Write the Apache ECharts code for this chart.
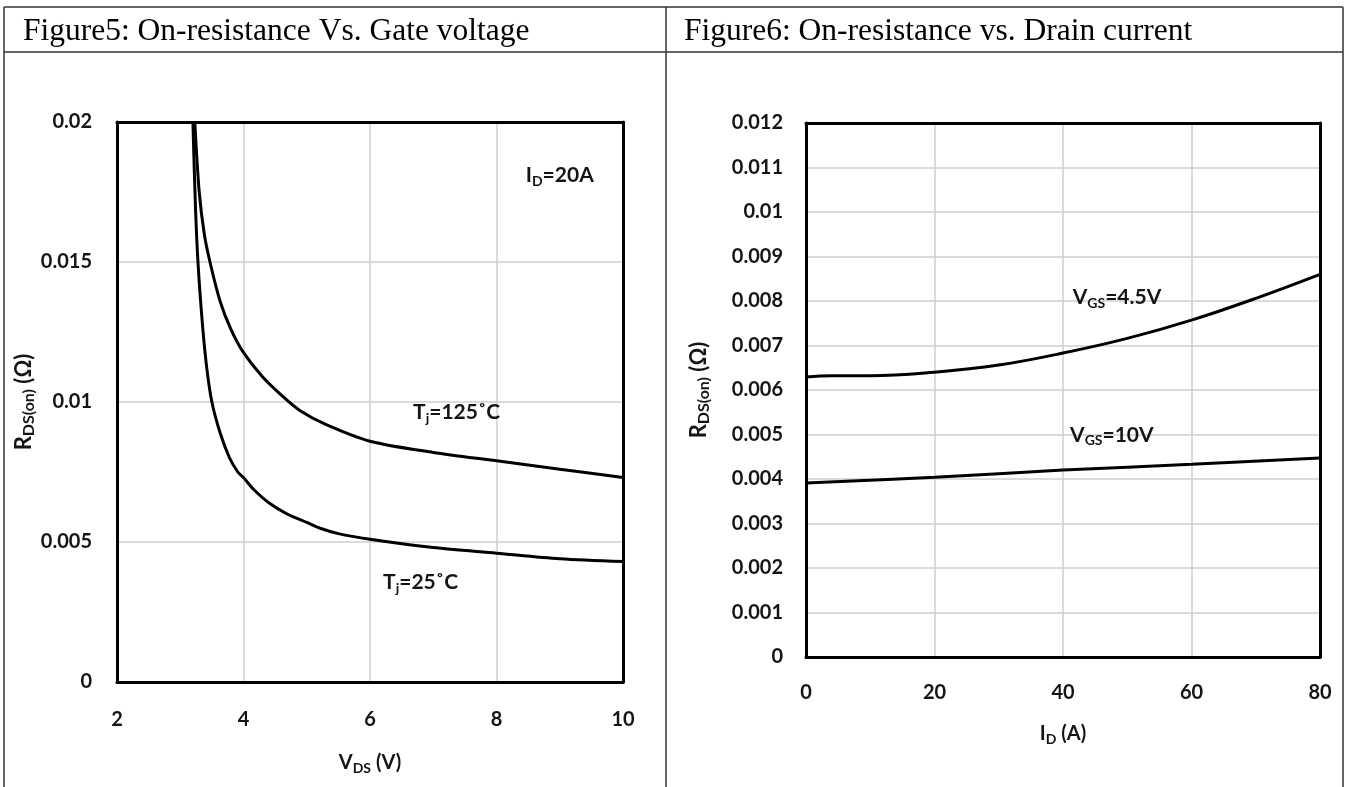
<!DOCTYPE html>
<html>
<head>
<meta charset="utf-8">
<title>On-resistance characteristics</title>
<script src="https://cdn.jsdelivr.net/npm/echarts@6/dist/echarts.min.js"></script>
<style>
  html, body { margin: 0; padding: 0; background: #fff; }
  #chart { width: 1347px; height: 787px; }
</style>
</head>
<body>
<div id="chart"></div>
<script>
// Figure 5: on-resistance vs. gate voltage (ID = 20 A)
const vdsTicks = [2, 4, 6, 8, 10];
const rdsTicksFig5 = [0, 0.005, 0.01, 0.015, 0.02];
const vdsTj25 = [3.20, 3.24, 3.28, 3.35, 3.42, 3.50, 3.63, 3.78, 3.91, 4.00, 4.15, 4.40, 4.69, 5.00, 5.20, 5.50, 6.00, 7.00, 8.00, 9.00, 10.0];
const rdsTj25 = [0.0200, 0.0170, 0.0150, 0.0128, 0.0112, 0.0100, 0.0089, 0.0080, 0.0075, 0.0073, 0.0069, 0.0064, 0.0060, 0.0057, 0.0055, 0.0053, 0.0051, 0.0048, 0.0046, 0.0044, 0.0043];
const vdsTj125 = [3.23, 3.30, 3.38, 3.47, 3.63, 3.80, 3.99, 4.30, 4.62, 4.89, 5.30, 6.00, 7.00, 8.00, 9.00, 10.0];
const rdsTj125 = [0.0200, 0.0175, 0.0160, 0.0150, 0.0136, 0.0126, 0.0118, 0.0109, 0.0102, 0.0097, 0.0092, 0.0086, 0.0082, 0.0079, 0.0076, 0.0073];

// Figure 6: on-resistance vs. drain current
const idTicks = [0, 20, 40, 60, 80];
const rdsTicksFig6 = [0, 0.001, 0.002, 0.003, 0.004, 0.005, 0.006, 0.007, 0.008, 0.009, 0.01, 0.011, 0.012];
const idVgs45 = [0, 4, 10, 20, 30, 40, 50, 60, 70, 80];
const rdsVgs45 = [0.00629, 0.00632, 0.00632, 0.00640, 0.00656, 0.00683, 0.00716, 0.00757, 0.00806, 0.00860];
const idVgs10 = [0, 20, 40, 60, 80];
const rdsVgs10 = [0.00391, 0.00404, 0.00420, 0.00433, 0.00447];

const zip = (xs, ys) => xs.map((x, i) => [x, ys[i]]);

const SANS = 'Lato';
const INK = '#151515';
const rich = {
  n: { fontFamily: SANS, fontWeight: 'bold', fontSize: 20, color: INK, lineHeight: 24 },
  s: { fontFamily: SANS, fontWeight: 'bold', fontSize: 14, color: INK, lineHeight: 15, verticalAlign: 'bottom' },
  yn: { fontFamily: SANS, fontWeight: 'bold', fontSize: 22, color: INK, lineHeight: 26 },
  ys: { fontFamily: SANS, fontWeight: 'bold', fontSize: 16, color: INK, lineHeight: 17, verticalAlign: 'bottom' },
  t: { fontFamily: SANS, fontWeight: 'bold', fontSize: 21, color: INK, lineHeight: 26, opacity: 1 },
  ts: { fontFamily: SANS, fontWeight: 'bold', fontSize: 14, color: INK, lineHeight: 15, verticalAlign: 'bottom', opacity: 1 }
};
const tickFont = { fontFamily: SANS, fontWeight: 'bold', fontSize: 20, color: INK };

function valueAxis(gridIndex, min, max, interval, extra) {
  return Object.assign({
    type: 'value', gridIndex, min, max, interval,
    axisLine: { show: true, onZero: false, lineStyle: { color: '#000', width: 3 } },
    axisTick: { show: false },
    axisLabel: tickFont,
    splitLine: { show: true, lineStyle: { color: '#cfcfcf', width: 1.5 } }
  }, extra);
}

// plain black frame edge on the far side of a grid
function frameAxis(gridIndex, position, min, max) {
  return {
    type: 'value', gridIndex, position, min, max,
    axisLine: { show: true, onZero: false, lineStyle: { color: '#000', width: 3 } },
    axisTick: { show: false }, axisLabel: { show: false }, splitLine: { show: false }
  };
}

function curve(xAxisIndex, yAxisIndex, data, smooth) {
  return {
    type: 'line', xAxisIndex, yAxisIndex, data, smooth,
    showSymbol: false, clip: true, z: 3,
    lineStyle: { color: '#000', width: 3 },
    silent: true
  };
}

// text placed at a data position of a grid
function note(xAxisIndex, yAxisIndex, coord, text) {
  return {
    type: 'scatter', xAxisIndex, yAxisIndex, silent: true, z: 4,
    symbolSize: 1, itemStyle: { color: '#fff', opacity: 1 },
    data: [coord],
    label: {
      show: true, position: 'inside', formatter: text, rich, opacity: 1,
      fontFamily: SANS, fontWeight: 'bold', fontSize: 21, color: INK,
      textBorderWidth: 0
    }
  };
}

const chart = echarts.init(document.getElementById('chart'), null, { renderer: 'canvas' });

const titleFont = { fontFamily: 'Liberation Serif', fontWeight: 'normal', fontSize: 31.5, color: '#000' };

const option = {
  animation: false,
  backgroundColor: '#fff',
  title: [
    { text: 'Figure5: On-resistance Vs. Gate voltage', left: 18, top: 11, textStyle: titleFont },
    { text: 'Figure6: On-resistance vs. Drain current', left: 679, top: 11, textStyle: titleFont }
  ],
  grid: [
    { left: 117, top: 122, width: 506, height: 560 },
    { left: 806, top: 123, width: 514, height: 534 }
  ],
  xAxis: [
    valueAxis(0, vdsTicks[0], vdsTicks[vdsTicks.length - 1], 2, {
      name: '{n|V}{s|DS}{n| (V)}', nameLocation: 'middle', nameGap: 69,
      nameTextStyle: { rich },
      axisLabel: Object.assign({ margin: 28 }, tickFont)
    }),
    valueAxis(1, idTicks[0], idTicks[idTicks.length - 1], 20, {
      name: '{n|I}{s|D}{n| (A)}', nameLocation: 'middle', nameGap: 65,
      nameTextStyle: { rich },
      axisLabel: Object.assign({ margin: 26 }, tickFont)
    }),
    frameAxis(0, 'top', vdsTicks[0], vdsTicks[vdsTicks.length - 1]),
    frameAxis(1, 'top', idTicks[0], idTicks[idTicks.length - 1])
  ],
  yAxis: [
    valueAxis(0, rdsTicksFig5[0], rdsTicksFig5[rdsTicksFig5.length - 1], 0.005, {
      name: '{yn|R}{ys|DS(on)}{yn| (Ω)}', nameLocation: 'middle', nameGap: 62, nameRotate: 90,
      nameTextStyle: { rich },
      axisLabel: Object.assign({ margin: 25 }, tickFont)
    }),
    valueAxis(1, rdsTicksFig6[0], rdsTicksFig6[rdsTicksFig6.length - 1], 0.001, {
      name: '{yn|R}{ys|DS(on)}{yn| (Ω)}', nameLocation: 'middle', nameGap: 94, nameRotate: 90,
      nameTextStyle: { rich },
      axisLabel: Object.assign({ margin: 23 }, tickFont)
    }),
    frameAxis(0, 'right', rdsTicksFig5[0], rdsTicksFig5[rdsTicksFig5.length - 1]),
    frameAxis(1, 'right', rdsTicksFig6[0], rdsTicksFig6[rdsTicksFig6.length - 1])
  ],
  series: [
    curve(0, 0, zip(vdsTj25, rdsTj25), 0.3),
    curve(0, 0, zip(vdsTj125, rdsTj125), 0.3),
    curve(1, 1, zip(idVgs45, rdsVgs45), 0.4),
    curve(1, 1, zip(idVgs10, rdsVgs10), 0.4),
    note(0, 0, [9.0, 0.0181], '{t|I}{ts|D}{t|=20A}'),
    note(0, 0, [7.37, 0.00964], '{t|T}{ts|j}{t|=125˚C}'),
    note(0, 0, [6.8, 0.00357], '{t|T}{ts|j}{t|=25˚C}'),
    note(1, 1, [48.4, 0.00809], '{t|V}{ts|GS}{t|=4.5V}'),
    note(1, 1, [47.6, 0.00499], '{t|V}{ts|GS}{t|=10V}')
  ],
  graphic: [
    // table frame around the two figure cells
    { type: 'line', shape: { x1: 4, y1: 7, x2: 1343, y2: 7 }, style: { stroke: '#333', lineWidth: 1.5 } },
    { type: 'line', shape: { x1: 4, y1: 52, x2: 1343, y2: 52 }, style: { stroke: '#333', lineWidth: 1.5 } },
    { type: 'line', shape: { x1: 4, y1: 7, x2: 4, y2: 787 }, style: { stroke: '#333', lineWidth: 1.5 } },
    { type: 'line', shape: { x1: 666, y1: 7, x2: 666, y2: 787 }, style: { stroke: '#333', lineWidth: 1.5 } },
    { type: 'line', shape: { x1: 1343, y1: 7, x2: 1343, y2: 787 }, style: { stroke: '#333', lineWidth: 1.5 } }
  ]
};

chart.setOption(option);
</script>
</body>
</html>
